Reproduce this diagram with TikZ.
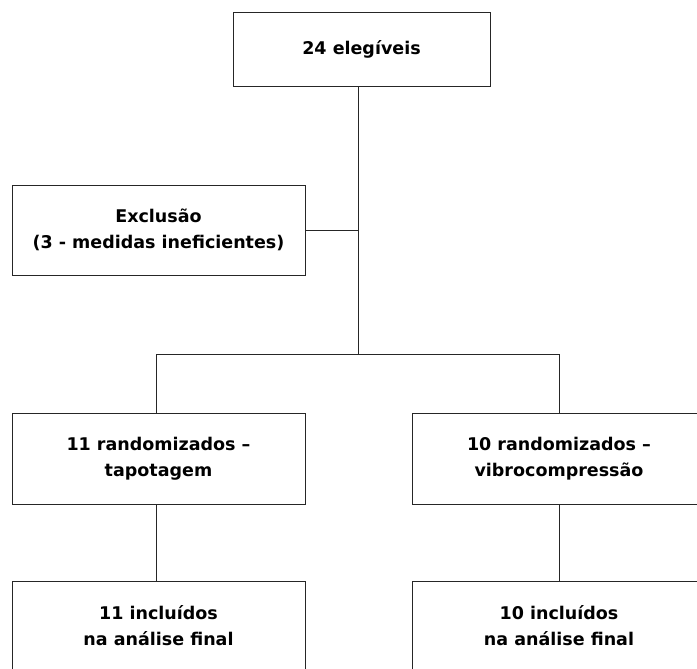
\documentclass[tikz,border=0pt]{standalone}
\usepackage{fontspec}
\setmainfont{DejaVu Sans}[BoldFont={DejaVu Sans Bold}]
\begin{document}
\begin{tikzpicture}[x=1pt,y=-1pt,
  box/.style={draw=black!85, line width=0.9pt, align=center, inner sep=0pt,
    minimum width=293pt, minimum height=90pt,
    font=\bfseries\fontsize{17.5}{26}\selectfont},
  link/.style={draw=black!85, line width=0.9pt}]
\useasboundingbox (0,0) rectangle (697,669);
\clip (0,0) rectangle (697,669);
\fill[white] (0,0) rectangle (697,669);
\node[box, minimum width=257pt, minimum height=74pt] (top) at (361.5,49) {24 elegíveis};
\node[box] (excl) at (158.5,230) {Exclusão\\(3 - medidas ineficientes)};
\node[box, minimum height=91pt] (r1) at (158.5,458.5) {11 randomizados –\\tapotagem};
\node[box, minimum height=91pt] (r2) at (559,458.5) {10 randomizados –\\vibrocompressão};
\node[box] (i1) at (158.5,626) {11 incluídos\\na análise final};
\node[box] (i2) at (559,626) {10 incluídos\\na análise final};
\coordinate (j1) at (358.7,230);
\coordinate (j2) at (358.7,354);
\coordinate (bl) at (156,354);
\coordinate (br) at (559,354);
\draw[link] (top.south -| j1) -- (j2);
\draw[link] (excl.east) -- (j1);
\draw[link] (bl) -- (br);
\draw[link] (bl) -- (r1.north -| bl);
\draw[link] (br) -- (r2.north);
\draw[link] (r1.south -| bl) -- (i1.north -| bl);
\draw[link] (r2.south) -- (i2.north);
\end{tikzpicture}
\end{document}
